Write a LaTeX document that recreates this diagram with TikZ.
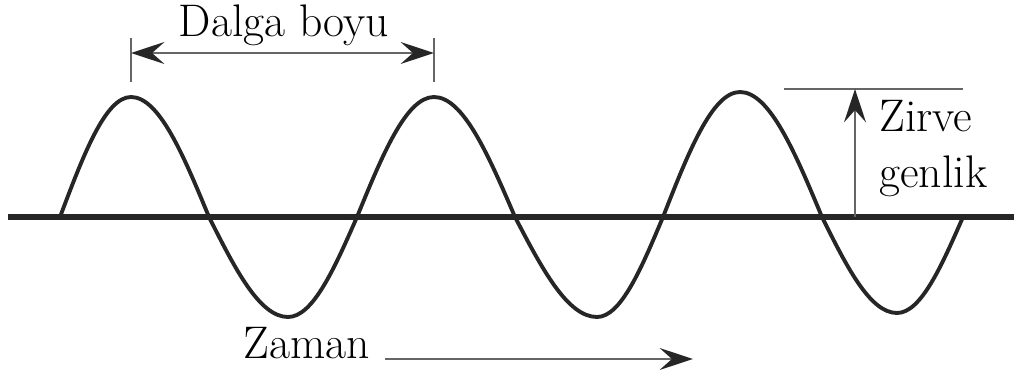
\documentclass[tikz,border=0pt]{standalone}
\usetikzlibrary{arrows.meta,positioning}

\begin{document}
\begin{tikzpicture}[
    x=0.02cm, y=-0.02cm,
    axisline/.style={line width=3.6pt, draw=black!85},
    wave/.style={line width=2.2pt, draw=black!85, line join=round},
    thinline/.style={line width=1.1pt, draw=black!60},
    tipend/.style={-{Stealth[length=19pt, width=12.5pt, inset=7pt, black!85]}},
    tipboth/.style={{Stealth[length=19pt, width=12.5pt, inset=7pt, black!85]}-{Stealth[length=19pt, width=12.5pt, inset=7pt, black!85]}},
    lbl/.style={inner sep=0pt, font=\fontsize{26}{31}\selectfont}
  ]
  \useasboundingbox (0,0) rectangle (1014,381);

  \coordinate (axL) at (8,217);
  \coordinate (axR) at (1014,217);
  \draw[axisline] (axL) -- (axR);

  \draw[wave] (60,217) sin (131,97) cos (209,217) sin (288,317) cos (357,217)
    sin (434,97) cos (515,217) sin (597,317) cos (663,217)
    sin (740,92) cos (822,217) sin (897,313) cos (963,217);

  \coordinate (tickA1) at (131,38);
  \coordinate (tickA2) at (131,82);
  \coordinate (tickB1) at (434,38);
  \coordinate (tickB2) at (434,82);
  \draw[thinline] (tickA1) -- (tickA2);
  \draw[thinline] (tickB1) -- (tickB2);
  \coordinate (lamL) at (131,53);
  \coordinate (lamR) at (434,53);
  \draw[thinline, tipboth] (lamL) -- (lamR);
  \node[lbl, anchor=base] (dalga) at (284,37) {Dalga boyu};

  \coordinate (topL) at (784,89);
  \coordinate (topR) at (963,89);
  \draw[thinline] (topL) -- (topR);
  \coordinate (ampBase) at (855,217);
  \coordinate (ampTop) at (855,89);
  \draw[thinline, tipend] (ampBase) -- (ampTop);
  \node[lbl, anchor=base west] (zirve) at (879,132) {Zirve};
  \node[lbl, anchor=base west] (genlik) at (879,188) {genlik};

  \node[lbl, anchor=base west] (zaman) at (243,358) {Zaman};
  \coordinate (timeL) at (385,359);
  \coordinate (timeR) at (693,359);
  \draw[thinline, tipend] (timeL) -- (timeR);
\end{tikzpicture}
\end{document}
